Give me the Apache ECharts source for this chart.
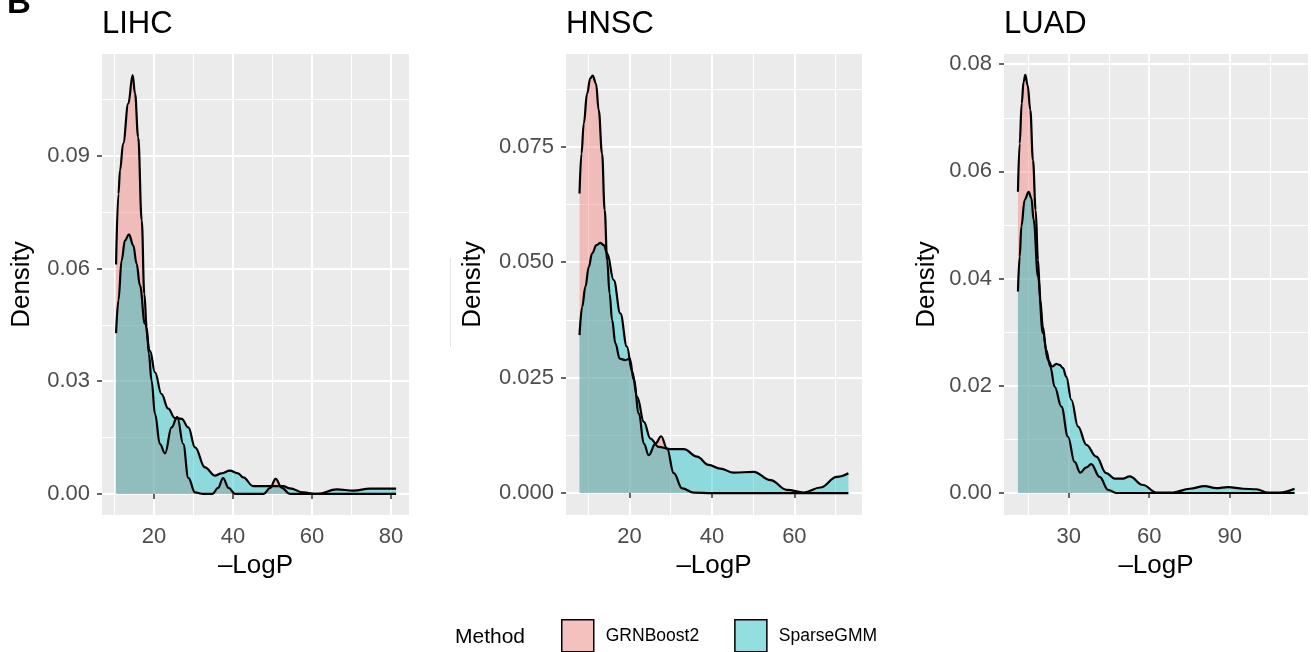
<!DOCTYPE html>
<html>
<head>
<meta charset="utf-8">
<title>Density of -LogP by method</title>
<script src="https://cdn.jsdelivr.net/npm/echarts@6/dist/echarts.min.js"></script>
<style>
  html, body { margin: 0; padding: 0; background: #fff; }
  #chart { width: 1311px; height: 652px; }
</style>
</head>
<body>
<div id="chart"></div>
<script>
// ---- data ----
var methods = ['GRNBoost2', 'SparseGMM'];
var cancers = ['LIHC', 'HNSC', 'LUAD'];

// LIHC
var lihcGrnX = [10.4, 11.0, 11.4, 12.2, 13.5, 14.6, 15.2, 16.0, 16.9, 17.55, 18.15, 18.7, 19.4, 20.25, 21.5, 22.8, 24.45, 25.9, 27.4, 28.7, 30.4, 32.5, 34.8, 36.2, 37.5, 38.9, 40.5, 44.0, 47.8, 49.4, 50.8, 52.4, 54.4, 60, 70, 81.3];
var lihcGrnY = [0.0611, 0.0799, 0.0861, 0.0933, 0.1039, 0.1115, 0.1066, 0.0950, 0.0728, 0.0533, 0.0444, 0.0373, 0.0301, 0.0213, 0.0133, 0.0108, 0.0177, 0.0205, 0.0133, 0.0043, 0.0004, 0, 0, 0.0016, 0.0042, 0.0016, 0, 0, 0, 0.0016, 0.0040, 0.0016, 0, 0, 0, 0];
var lihcSgX = [10.4, 11.0, 11.8, 12.66, 13.67, 14.77, 15.6, 16.45, 17.7, 19.0, 20.25, 21.9, 23.6, 25.3, 27.0, 28.7, 30.4, 32.9, 35.4, 37.1, 39.2, 41.3, 42.6, 45.1, 50.2, 52.7, 54.4, 57.8, 61.2, 66.3, 70.5, 74.7, 81.3];
var lihcSgY = [0.0428, 0.0515, 0.0621, 0.0675, 0.0691, 0.0661, 0.0613, 0.0555, 0.0453, 0.0381, 0.0324, 0.0266, 0.0227, 0.0202, 0.0200, 0.0177, 0.0124, 0.0071, 0.0049, 0.0055, 0.0062, 0.0055, 0.0044, 0.0021, 0.0021, 0.0021, 0.0015, 0.0004, 0.0000, 0.0012, 0.0009, 0.0014, 0.0014];

// HNSC
var hnscGrnX = [7.9, 8.37, 8.93, 9.73, 10.5, 11.1, 11.9, 12.56, 13.37, 14.0, 14.6, 15.2, 15.8, 16.6, 17.66, 19.0, 20.1, 21.05, 22.3, 23.5, 24.7, 26.3, 27.7, 29.1, 30.75, 32.8, 35.6, 40, 50, 60, 73.1];
var hnscGrnY = [0.0649, 0.0735, 0.0800, 0.0865, 0.0898, 0.0904, 0.0887, 0.0829, 0.0735, 0.0613, 0.0504, 0.0432, 0.0375, 0.0324, 0.0291, 0.0288, 0.0291, 0.0245, 0.0172, 0.0107, 0.0082, 0.0107, 0.0123, 0.0097, 0.0043, 0.0010, 0.0001, 0, 0, 0, 0];
var hnscSgX = [7.9, 8.53, 9.33, 10.14, 10.95, 12.0, 12.97, 13.78, 14.6, 16.2, 17.8, 19.4, 20.65, 21.9, 23.5, 25.1, 27.1, 29.9, 33.2, 36.4, 39.2, 42.0, 45.3, 50.1, 54.2, 58.2, 62.3, 66.3, 70.3, 73.1];
var hnscSgY = [0.0342, 0.0403, 0.0447, 0.0490, 0.0519, 0.0537, 0.0542, 0.0537, 0.0519, 0.0461, 0.0389, 0.0317, 0.0263, 0.0208, 0.0154, 0.0118, 0.0100, 0.0095, 0.0095, 0.0079, 0.0061, 0.0053, 0.0044, 0.0046, 0.0028, 0.0007, 0.0001, 0.0012, 0.0035, 0.0043];

// LUAD
var luadGrnX = [11.1, 11.74, 12.5, 13.2, 13.85, 14.7, 15.7, 16.7, 17.7, 18.56, 19.4, 20.4, 21.6, 23.15, 24.8, 27.3, 29.75, 32.2, 34.35, 36.6, 38.4, 41.55, 44.7, 47.7, 60, 80, 100, 114.2];
var luadGrnY = [0.0562, 0.0652, 0.0727, 0.0767, 0.0780, 0.0761, 0.0715, 0.0621, 0.0528, 0.0435, 0.0360, 0.0310, 0.0267, 0.0236, 0.0198, 0.0161, 0.0105, 0.0058, 0.0038, 0.0048, 0.0054, 0.0030, 0.0006, 0, 0, 0, 0, 0];
var luadSgX = [11.1, 11.74, 12.37, 13.6, 15.1, 16.1, 16.97, 18.56, 20.4, 22.3, 23.9, 25.4, 26.6, 27.9, 29.1, 31.0, 33.5, 36.6, 40.3, 44.0, 47.1, 50.2, 52.7, 57.7, 62.7, 68.9, 75.1, 80.7, 85.0, 89.4, 95.0, 100.0, 104.3, 108.6, 114.2];
var luadSgY = [0.0376, 0.0441, 0.0497, 0.0547, 0.0562, 0.0550, 0.0509, 0.0404, 0.0298, 0.0248, 0.0236, 0.0241, 0.0239, 0.0233, 0.0217, 0.0174, 0.0124, 0.0090, 0.0068, 0.0037, 0.0027, 0.0027, 0.0031, 0.0015, 0.0001, 0.0001, 0.0008, 0.0013, 0.0009, 0.0011, 0.0008, 0.0007, 0.0001, 0.0001, 0.0008];

// axis breaks
var lihcXMajor = [20, 40, 60, 80];
var lihcXMinor = [10, 30, 50, 70];
var lihcYMajor = [0, 0.03, 0.06, 0.09];
var lihcYMinor = [0.015, 0.045, 0.075, 0.105];
var hnscXMajor = [20, 40, 60];
var hnscXMinor = [10, 30, 50, 70];
var hnscYMajor = [0, 0.025, 0.05, 0.075];
var hnscYMinor = [0.0125, 0.0375, 0.0625, 0.0875];
var luadXMajor = [30, 60, 90];
var luadXMinor = [15, 45, 75, 105];
var luadYMajor = [0, 0.02, 0.04, 0.06, 0.08];
var luadYMinor = [0.01, 0.03, 0.05, 0.07];

// ---- layout ----
var font = 'Liberation Sans, Arial, Helvetica, sans-serif';
var fills = ['#F8766D', '#00BFC4'];

function pairs(xs, ys) {
  return xs.map(function (x, i) { return [x, ys[i]]; });
}

var panels = [
  { title: cancers[0], left: 102, width: 307, xMin: 6.84, xMax: 84.56, yMin: -0.0056, yMax: 0.1171, digits: 2, nameGap: 67,
    xMajor: lihcXMajor, xMinor: lihcXMinor, yMajor: lihcYMajor, yMinor: lihcYMinor,
    grn: pairs(lihcGrnX, lihcGrnY), sg: pairs(lihcSgX, lihcSgY) },
  { title: cancers[1], left: 566, width: 296, xMin: 4.62, xMax: 76.4, yMin: -0.00476, yMax: 0.0951, digits: 3, nameGap: 80,
    xMajor: hnscXMajor, xMinor: hnscXMinor, yMajor: hnscYMajor, yMinor: hnscYMinor,
    grn: pairs(hnscGrnX, hnscGrnY), sg: pairs(hnscSgX, hnscSgY) },
  { title: cancers[2], left: 1004, width: 304, xMin: 5.9, xMax: 119.2, yMin: -0.0041, yMax: 0.0819, digits: 2, nameGap: 64,
    xMajor: luadXMajor, xMinor: luadXMinor, yMajor: luadYMajor, yMinor: luadYMinor,
    grn: pairs(luadGrnX, luadGrnY), sg: pairs(luadSgX, luadSgY) }
];

var option = {
  animation: false,
  backgroundColor: '#fff',
  textStyle: { fontFamily: font },
  title: [],
  grid: [],
  xAxis: [],
  yAxis: [],
  series: [],
  legend: {
    left: 556, top: 614,
    itemWidth: 32, itemHeight: 32, itemGap: 35,
    selectedMode: false,
    textStyle: { fontFamily: font, fontSize: 17.5, color: '#000', padding: [0, 0, 0, 7] },
    data: [
      { name: methods[0], icon: 'rect', itemStyle: { color: '#F4C1BE', borderColor: '#000', borderWidth: 1.5 } },
      { name: methods[1], icon: 'rect', itemStyle: { color: '#93DFE0', borderColor: '#000', borderWidth: 1.5 } }
    ]
  },
  graphic: [
    { type: 'line', shape: { x1: 450.5, y1: 258, x2: 450.5, y2: 347 }, style: { stroke: '#e4e4e4', lineWidth: 1 } }
  ]
};

option.title.push({ text: 'B', left: 2, top: -18, textStyle: { fontFamily: font, fontSize: 33, fontWeight: 'bold', color: '#000' } });
option.title.push({ text: 'Method', left: 450, top: 622, textStyle: { fontFamily: font, fontSize: 21, fontWeight: 'normal', color: '#000' } });

panels.forEach(function (p, i) {
  option.title.push({
    text: p.title, left: p.left - 5, top: 4,
    textStyle: { fontFamily: font, fontSize: 31, fontWeight: 'normal', color: '#000' }
  });
  option.grid.push({
    left: p.left, top: 54, width: p.width, height: 461,
    show: true, backgroundColor: '#EBEBEB', borderWidth: 0
  });

  // major x axis (labels, ticks, major grid)
  option.xAxis.push({
    type: 'value', gridIndex: i, min: p.xMin, max: p.xMax,
    name: '\u2013LogP', nameLocation: 'middle', nameGap: 35,
    nameTextStyle: { fontFamily: font, fontSize: 26, color: '#000' },
    axisLine: { show: false },
    axisTick: { show: true, length: 5, customValues: p.xMajor, lineStyle: { color: '#333', width: 1.5 } },
    axisLabel: { customValues: p.xMajor, margin: 11, fontSize: 22, color: '#4D4D4D', fontFamily: font },
    splitLine: { show: true, lineStyle: { color: '#fff', width: 2 } }
  });
  // minor x grid
  option.xAxis.push({
    type: 'value', gridIndex: i, min: p.xMin, max: p.xMax, position: 'bottom',
    axisLine: { show: false }, axisTick: { show: false, customValues: p.xMinor },
    axisLabel: { show: false, customValues: p.xMinor },
    splitLine: { show: true, lineStyle: { color: '#fff', width: 1 } }
  });

  option.yAxis.push({
    type: 'value', gridIndex: i, min: p.yMin, max: p.yMax,
    name: 'Density', nameLocation: 'middle', nameRotate: 90, nameGap: p.nameGap,
    nameTextStyle: { fontFamily: font, fontSize: 26, color: '#000' },
    axisLine: { show: false },
    axisTick: { show: true, length: 5, customValues: p.yMajor, lineStyle: { color: '#333', width: 1.5 } },
    axisLabel: {
      customValues: p.yMajor, margin: 12, fontSize: 22, color: '#4D4D4D', fontFamily: font,
      formatter: (function (d) { return function (v) { return Number(v).toFixed(d); }; })(p.digits)
    },
    splitLine: { show: true, lineStyle: { color: '#fff', width: 2 } }
  });
  option.yAxis.push({
    type: 'value', gridIndex: i, min: p.yMin, max: p.yMax, position: 'left',
    axisLine: { show: false }, axisTick: { show: false, customValues: p.yMinor },
    axisLabel: { show: false, customValues: p.yMinor },
    splitLine: { show: true, lineStyle: { color: '#fff', width: 1 } }
  });

  [p.grn, p.sg].forEach(function (data, k) {
    option.series.push({
      name: methods[k],
      type: 'line',
      xAxisIndex: 2 * i, yAxisIndex: 2 * i,
      data: data,
      showSymbol: false,
      smooth: 0.4,
      smoothMonotone: 'x',
      color: fills[k],
      lineStyle: { color: '#000', width: 2.2 },
      areaStyle: { color: fills[k], opacity: 0.4 },
      emphasis: { disabled: true },
      silent: true
    });
  });
});

var chart = echarts.init(document.getElementById('chart'), null, { renderer: 'canvas' });
chart.setOption(option);
</script>
</body>
</html>
